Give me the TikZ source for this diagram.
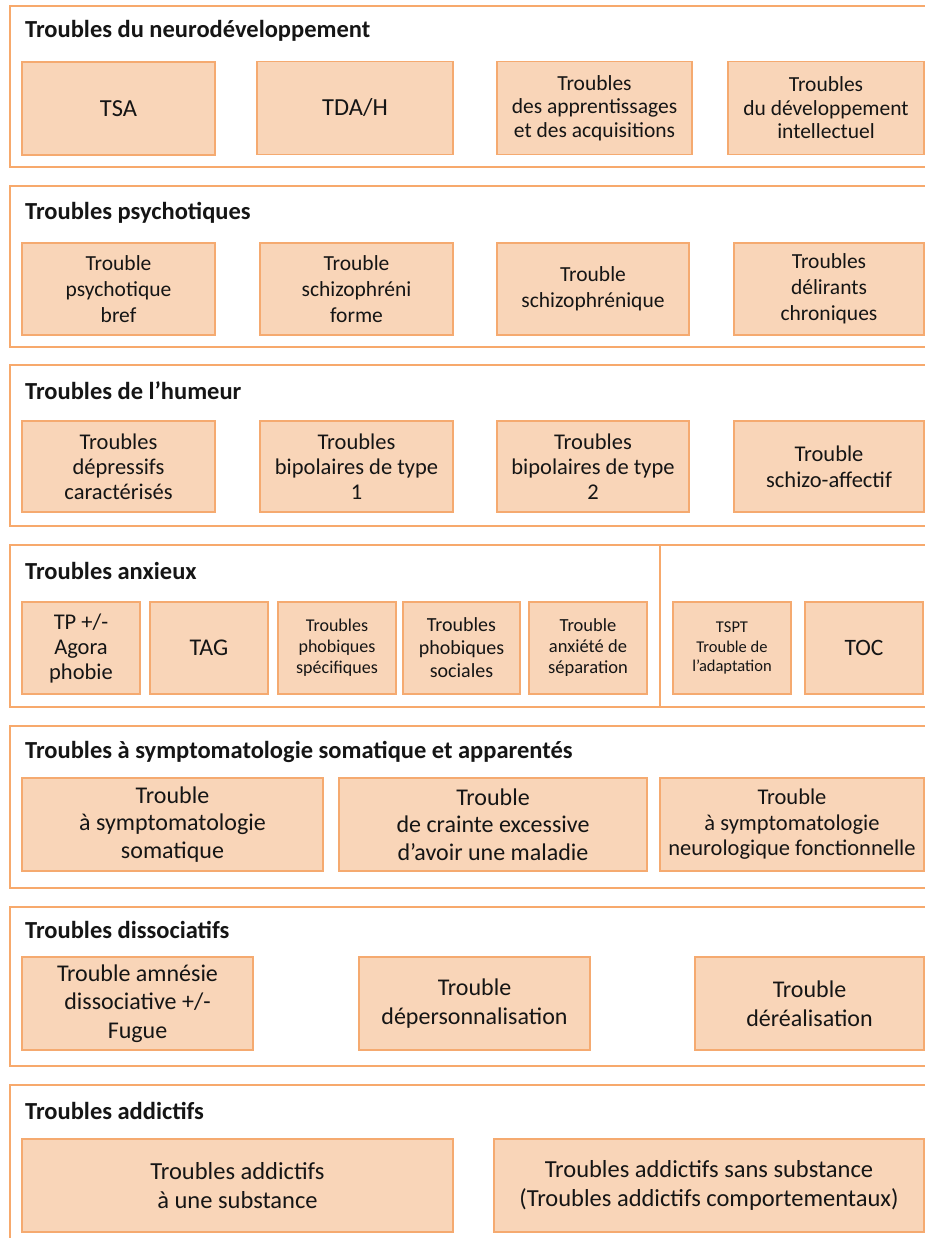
\documentclass[tikz,border=0pt]{standalone}
\usepackage{fontspec}
\setmainfont{Carlito}
\definecolor{frameor}{HTML}{F7A96C}
\definecolor{boxfill}{HTML}{F9D5B8}
\definecolor{boxline}{HTML}{F5AA70}
\definecolor{txt}{HTML}{151515}
\newcommand\fsz[2]{\fontsize{#1}{#2}\selectfont}
\begin{document}
\begin{tikzpicture}[x=1pt,y=-1pt,
  frame/.style={draw=frameor,line width=1.8pt},
  bx/.style={draw=boxline,fill=boxfill,line width=1.6pt,align=center,text=txt,inner sep=0pt},
  ttl/.style={anchor=base west,inner sep=0pt,text=txt,font=\fsz{24.5}{28}\bfseries},
  fA/.style={font=\fsz{24.5}{28}},
  fB/.style={font=\fsz{21.5}{23.5}},
  fC/.style={font=\fsz{21.5}{26}},
  fD/.style={font=\fsz{22.5}{25}},
]
\path[use as bounding box] (0,0) rectangle (925,1238);
% frames
\draw[frame] (940,6) -- (10,6) -- (10,167) -- (940,167);
\draw[frame] (940,186) -- (10,186) -- (10,347) -- (940,347);
\draw[frame] (940,365) -- (10,365) -- (10,526) -- (940,526);
\draw[frame] (940,545) -- (10,545) -- (10,707) -- (940,707);
\draw[frame] (940,726) -- (10,726) -- (10,888) -- (940,888);
\draw[frame] (940,907) -- (10,907) -- (10,1066) -- (940,1066);
\draw[frame] (940,1085) -- (10,1085) -- (10,1250);
\coordinate (dtop) at (660,545);
\coordinate (dbot) at (660,707);
\draw[frame,line width=1.4pt] (dtop) -- (dbot);
% titles
\node[ttl] (t1) at (25,38) {Troubles du neurodéveloppement};
\node[ttl] (t2) at (25,220) {Troubles psychotiques};
\node[ttl] (t3) at (25,399) {Troubles de l’humeur};
\node[ttl] (t4) at (25,579) {Troubles anxieux};
\node[ttl] (t5) at (25,758) {Troubles à symptomatologie somatique et apparentés};
\node[ttl] (t6) at (25,938) {Troubles dissociatifs};
\node[ttl] (t7) at (25,1119) {Troubles addictifs};
% section 1
\node[bx,fA,minimum width=193pt,minimum height=93pt] (a1) at (118.5,108.5) {TSA};
\node[bx,fA,minimum width=196pt,minimum height=93pt] (a2) at (355,108) {TDA/H};
\node[bx,fB,minimum width=195pt,minimum height=93pt] (a3) at (594.5,108) {Troubles\\des apprentissages\\et des acquisitions};
\node[bx,fB,minimum width=196pt,minimum height=93pt] (a4) at (826,108) {Troubles\\du développement\\intellectuel};
% section 2
\node[bx,fC,minimum width=193pt,minimum height=92pt] (b1) at (118.5,289) {Trouble\\psychotique\\bref};
\node[bx,fC,minimum width=193pt,minimum height=92pt] (b2) at (356.5,289) {Trouble\\schizophréni\\forme};
\node[bx,fC,minimum width=192pt,minimum height=92pt] (b3) at (593,289) {Trouble\\schizophrénique};
\node[bx,fC,minimum width=190pt,minimum height=92pt] (b4) at (829,289) {Troubles\\délirants\\chroniques};
% section 3
\node[bx,fD,minimum width=193pt,minimum height=91pt] (c1) at (118.5,466.5) {Troubles\\dépressifs\\caractérisés};
\node[bx,fD,minimum width=193pt,minimum height=91pt] (c2) at (356.5,466.5) {Troubles\\bipolaires de type\\1};
\node[bx,fD,minimum width=192pt,minimum height=91pt] (c3) at (593,466.5) {Troubles\\bipolaires de type\\2};
\node[bx,fD,minimum width=190pt,minimum height=91pt,font=\fsz{22.5}{26}] (c4) at (829,466.5) {Trouble\\schizo-affectif};
% section 4
\node[bx,minimum width=118pt,minimum height=92pt,font=\fsz{22.5}{25}] (d1) at (81,648) {TP +/-\\Agora\\phobie};
\node[bx,minimum width=118pt,minimum height=92pt,font=\fsz{24}{28}] (d2) at (209,648) {TAG};
\node[bx,minimum width=118pt,minimum height=92pt,font=\fsz{18}{21}] (d3) at (337,648) {Troubles\\phobiques\\spécifiques};
\node[bx,minimum width=117pt,minimum height=92pt,font=\fsz{20}{23}] (d4) at (461.5,648) {Troubles\\phobiques\\sociales};
\node[bx,minimum width=118pt,minimum height=92pt,font=\fsz{18.5}{21}] (d5) at (588,648) {Trouble\\anxiété de\\séparation};
\node[bx,minimum width=118pt,minimum height=92pt,font=\fsz{16.5}{19.5}] (d6) at (732,648) {TSPT\\Trouble de\\l’adaptation};
\node[bx,minimum width=118pt,minimum height=92pt,font=\fsz{23.5}{28}] (d7) at (864,648) {TOC};
% section 5
\node[bx,minimum width=301pt,minimum height=93pt,font=\fsz{24}{27.5}] (e1) at (172.5,824.5) {Trouble\\à symptomatologie\\somatique};
\node[bx,minimum width=308pt,minimum height=93pt,font=\fsz{24}{27.5}] (e2) at (493,824.5) {Trouble\\de crainte excessive\\d’avoir une maladie};
\node[bx,minimum width=264pt,minimum height=93pt,font=\fsz{22.5}{25.5}] (e3) at (792,824.5) {Trouble\\à symptomatologie\\neurologique fonctionnelle};
% section 6
\node[bx,minimum width=231pt,minimum height=93pt,font=\fsz{24}{28.5}] (f1) at (137.5,1003.5) {Trouble amnésie\\dissociative +/-\\Fugue};
\node[bx,minimum width=231pt,minimum height=93pt,font=\fsz{24}{28.5}] (f2) at (474.5,1003.5) {Trouble\\dépersonnalisation};
\node[bx,minimum width=229pt,minimum height=93pt,font=\fsz{24}{28.5}] (f3) at (809.5,1003.5) {Trouble\\déréalisation};
% section 7
\node[bx,minimum width=431pt,minimum height=93pt,font=\fsz{24.5}{29}] (g1) at (237.5,1185.5) {Troubles addictifs\\à une substance};
\node[bx,minimum width=430pt,minimum height=93pt,font=\fsz{24.5}{29}] (g2) at (709,1185.5) {Troubles addictifs sans substance\\(Troubles addictifs comportementaux)};
\end{tikzpicture}
\end{document}
